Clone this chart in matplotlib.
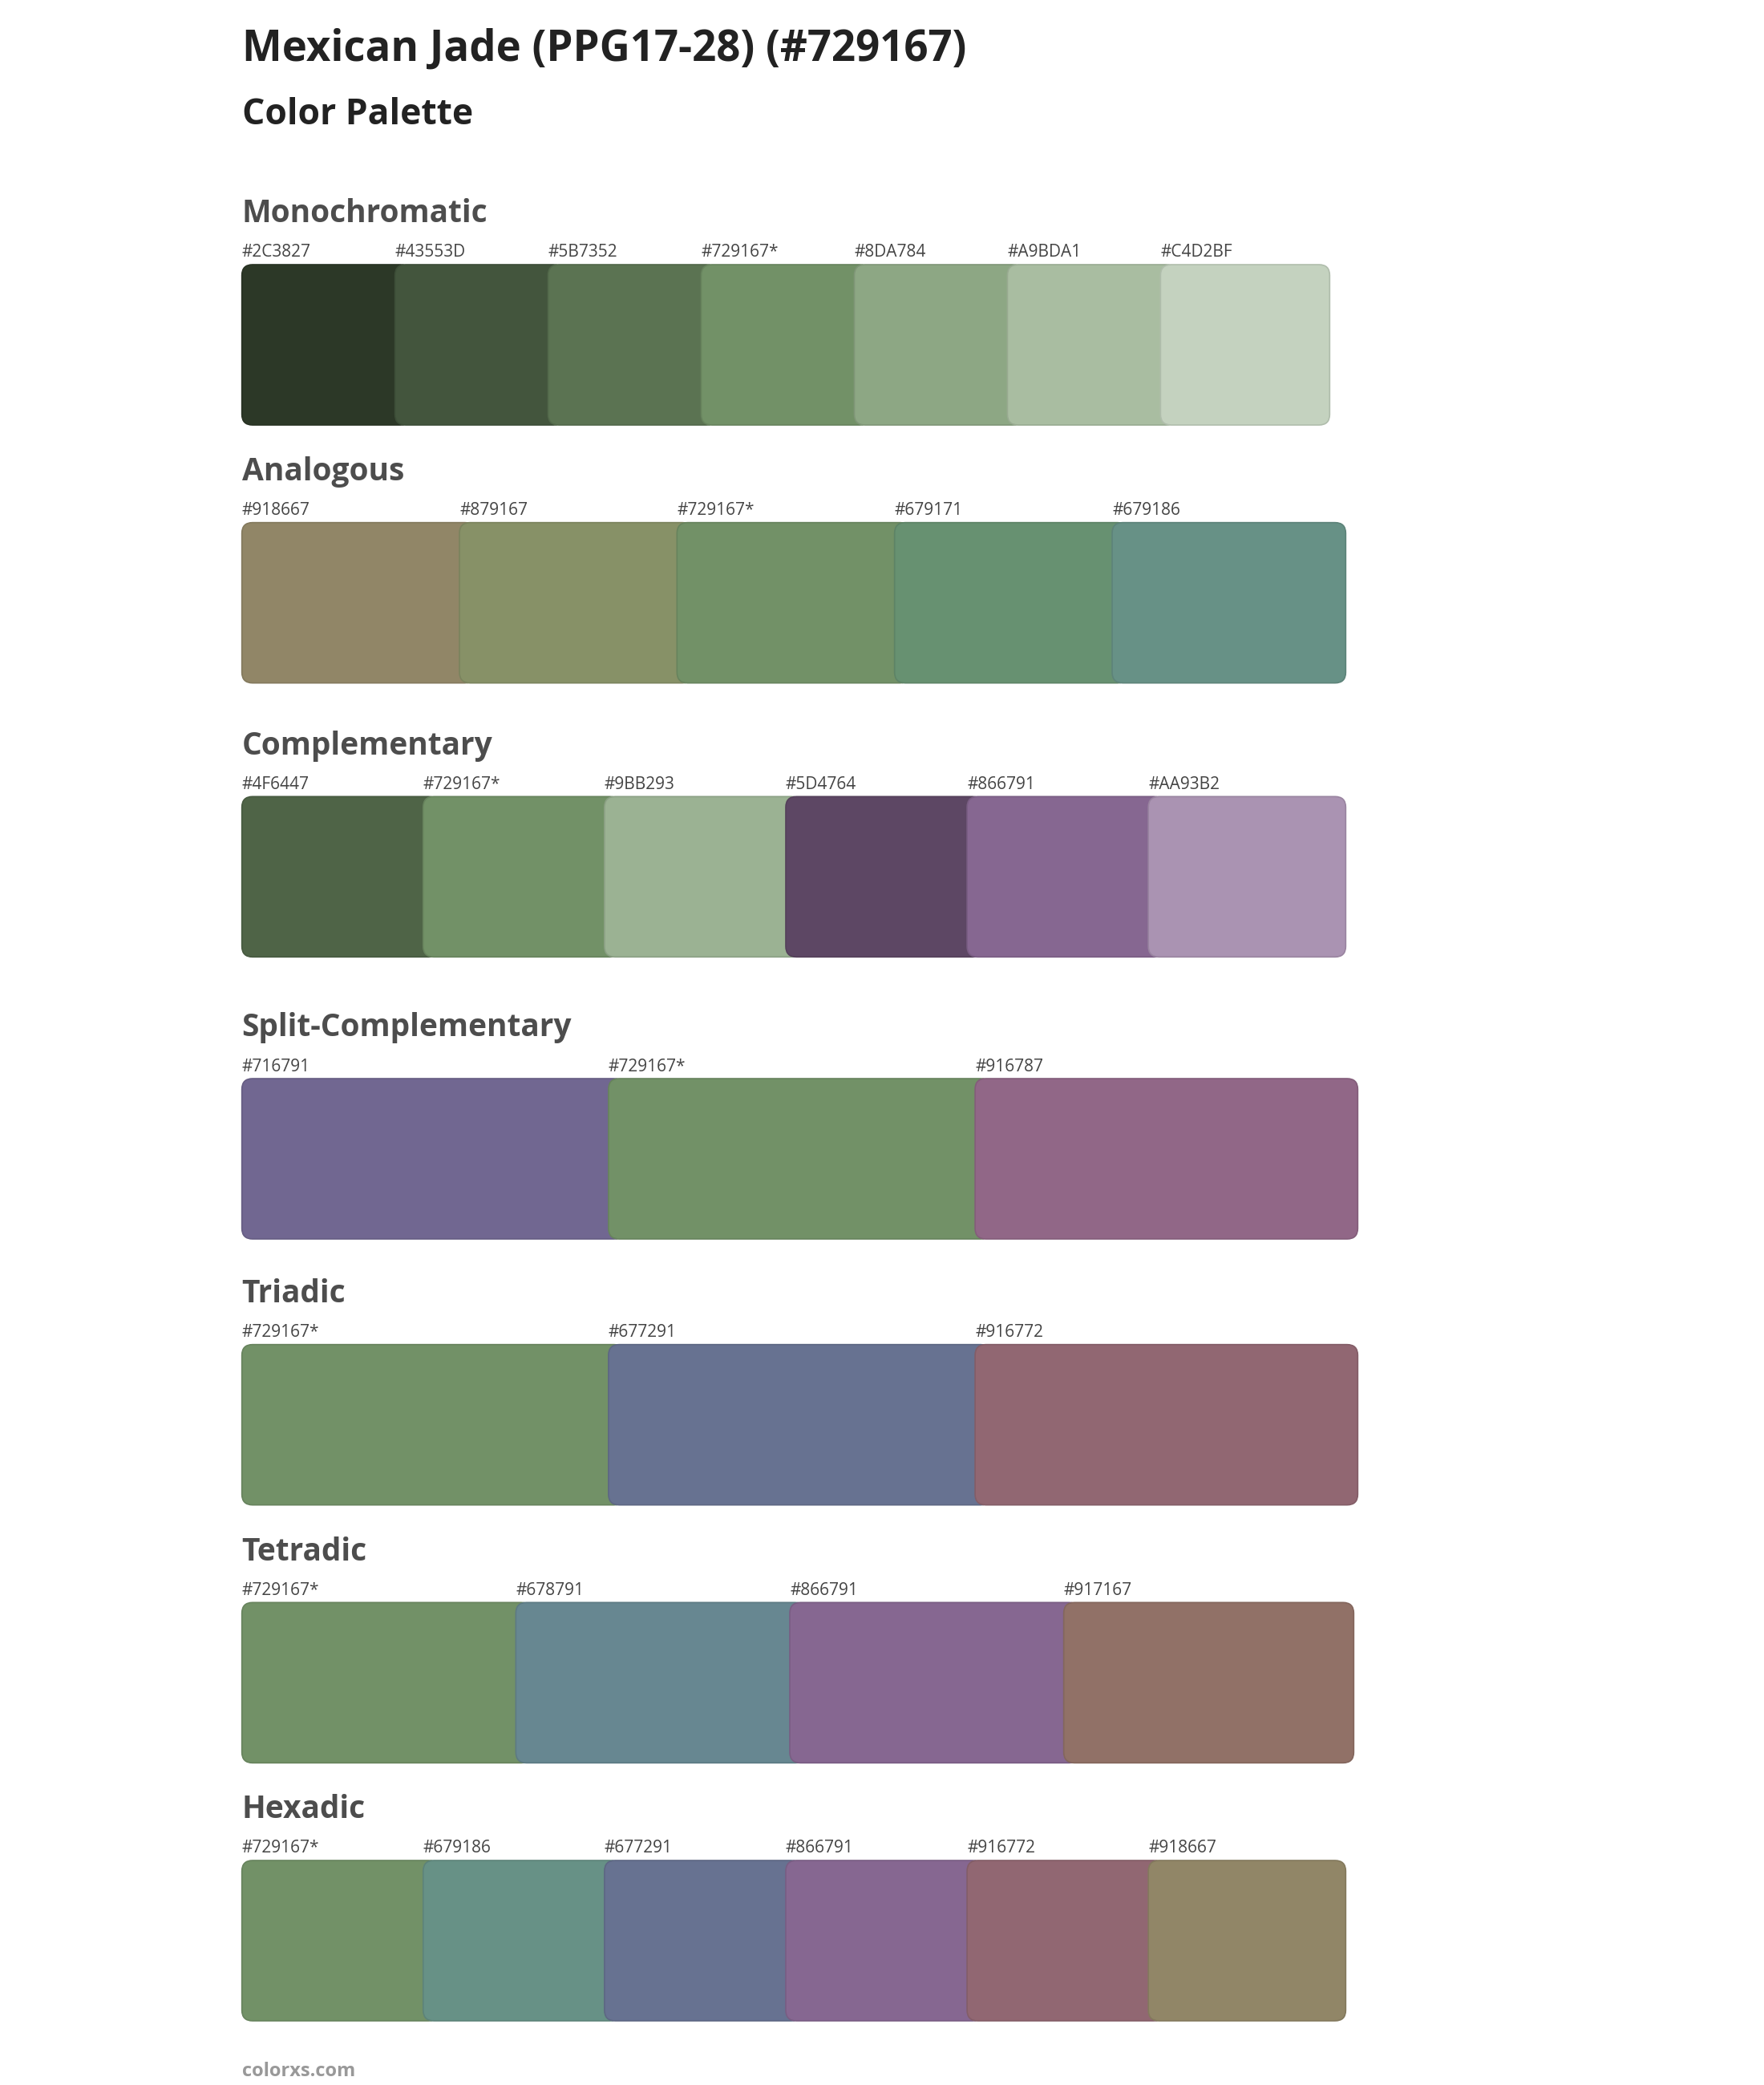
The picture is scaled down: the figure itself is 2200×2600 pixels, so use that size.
import matplotlib
matplotlib.use("Agg")
import matplotlib.pyplot as plt
from matplotlib.patches import FancyBboxPatch
import matplotlib.colors as mc

title = "Mexican Jade (PPG17-28) (#729167)"
subtitle = "Color Palette"
sections = ["Monochromatic", "Analogous", "Complementary", "Split-Complementary", "Triadic", "Tetradic", "Hexadic"]
palettes = [
    ["#2C3827", "#43553D", "#5B7352", "#729167", "#8DA784", "#A9BDA1", "#C4D2BF"],
    ["#918667", "#879167", "#729167", "#679171", "#679186"],
    ["#4F6447", "#729167", "#9BB293", "#5D4764", "#866791", "#AA93B2"],
    ["#716791", "#729167", "#916787"],
    ["#729167", "#677291", "#916772"],
    ["#729167", "#678791", "#866791", "#917167"],
    ["#729167", "#679186", "#677291", "#866791", "#916772", "#918667"],
]
base = "#729167"

# layout (in 1320x1560 reference units)
header_y = [160, 353, 558, 769, 968, 1161, 1354]
right_end = [995, 1007, 1007, 1016, 1016, 1013, 1007]
x0 = 181
sw_h = 120

fig = plt.figure(figsize=(22, 26), dpi=100)
ax = fig.add_axes([0, 0, 1, 1])
ax.set_xlim(0, 1320)
ax.set_ylim(1560, 0)
ax.axis("off")
fam = ["Open Sans", "DejaVu Sans"]

ax.text(x0, 37, title, fontsize=38, fontweight="bold", color="#222222", va="center", family=fam)
ax.text(x0, 86, subtitle, fontsize=32, fontweight="bold", color="#222222", va="center", family=fam)

for name, pal, hy, rend in zip(sections, palettes, header_y, right_end):
    ax.text(x0, hy, name, fontsize=28, fontweight="bold", color="#4d4d4d", va="center", family=fam)
    n = len(pal)
    step = (rend - x0 - 12) / n
    top = hy + 38
    for i, c in enumerate(pal):
        x = x0 + i * step
        w = (rend - x) if i == n - 1 else step + 12
        edge = [v * 0.9 for v in mc.to_rgb(c)]
        p = FancyBboxPatch((x, top), w, sw_h, boxstyle="round,pad=0,rounding_size=8",
                           facecolor=c, edgecolor=edge, linewidth=1.2)
        ax.add_patch(p)
        lab = c + ("*" if c == base else "")
        ax.text(x, top - 9, lab, fontsize=15, color="#444444", va="center", family=fam)

ax.text(x0, 1550, "colorxs.com", fontsize=17, fontweight="bold", color="#999999", va="center", family=fam)

fig.savefig("out.png", dpi=100, facecolor="white")
